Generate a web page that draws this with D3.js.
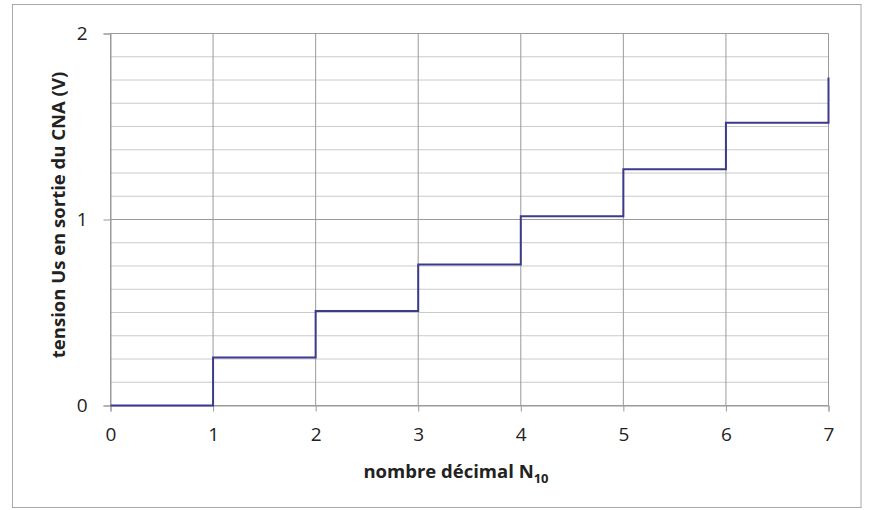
<!DOCTYPE html>
<html><head><meta charset="utf-8">
<script src="https://cdn.jsdelivr.net/npm/d3@7"></script>
<style>body{margin:0;background:#fff}svg{display:block}</style>
</head><body>
<svg id="c" width="869" height="510"></svg>
<script>
const nValues = [0, 1, 2, 3, 4, 5, 6, 7];
const usValues = [0, 0.258, 0.508, 0.758, 1.018, 1.27, 1.52, 1.763];
const xTicks = [0, 1, 2, 3, 4, 5, 6, 7];
const yTicks = [0, 1, 2];
const yMinorStep = 0.125;

const svg = d3.select("#c");
const font = "'Open Sans', 'Liberation Sans', sans-serif";
svg.append("rect").attr("x", 12.5).attr("y", 4.5).attr("width", 848.5).attr("height", 503)
  .attr("fill", "#fff").attr("stroke", "#a8a8a8").attr("stroke-width", 1);

const x = d3.scaleLinear().domain([0, 7]).range([110.5, 828.5]);
const y = d3.scaleLinear().domain([0, 2]).range([405.5, 33.5]);

const minor = d3.range(0, 2 + 1e-9, yMinorStep).filter(v => Math.abs(v - Math.round(v)) > 1e-6);
svg.append("g").selectAll("line").data(minor).join("line")
  .attr("x1", x(0)).attr("x2", x(7)).attr("y1", d => y(d)).attr("y2", d => y(d))
  .attr("stroke", "#cacaca").attr("stroke-width", 1);
svg.append("g").selectAll("line").data(yTicks).join("line")
  .attr("x1", x(0)).attr("x2", x(7)).attr("y1", d => y(d)).attr("y2", d => y(d))
  .attr("stroke", "#9a9a9a").attr("stroke-width", 1);
svg.append("g").selectAll("line").data(xTicks).join("line")
  .attr("x1", d => x(d)).attr("x2", d => x(d)).attr("y1", y(0)).attr("y2", y(2))
  .attr("stroke", "#9a9a9a").attr("stroke-width", 1);

const xAxis = svg.append("g").attr("transform", `translate(0,${y(0)})`)
  .call(d3.axisBottom(x).tickValues(xTicks).tickSize(6).tickPadding(16).tickFormat(d3.format("d")));
const yAxis = svg.append("g").attr("transform", `translate(${x(0)},0)`)
  .call(d3.axisLeft(y).tickValues(yTicks).tickSize(7).tickPadding(16).tickFormat(d3.format("d")));
[xAxis, yAxis].forEach(g => {
  g.select(".domain").attr("stroke", "#9a9a9a");
  g.selectAll(".tick line").attr("stroke", "#9a9a9a");
  g.selectAll("text").attr("font-family", font).attr("font-size", 19).attr("fill", "#222");
});

const line = d3.line().x((d, i) => x(nValues[i])).y(d => y(d)).curve(d3.curveStepAfter);
svg.append("path").datum(usValues).attr("d", line)
  .attr("fill", "none").attr("stroke", "#3b3b8e").attr("stroke-width", 2);

const xt = svg.append("text").attr("x", 456).attr("y", 478).attr("text-anchor", "middle")
  .attr("font-family", font).attr("font-weight", "bold").attr("font-size", 18.5).attr("fill", "#222");
xt.append("tspan").text("nombre décimal N");
xt.append("tspan").attr("font-size", 13).attr("dy", 5).text("10");

svg.append("text").attr("transform", "translate(65,215) rotate(-90)").attr("text-anchor", "middle")
  .attr("font-family", font).attr("font-weight", "bold").attr("font-size", 18.5).attr("fill", "#222")
  .text("tension Us en sortie du CNA (V)");
</script>
</body></html>
